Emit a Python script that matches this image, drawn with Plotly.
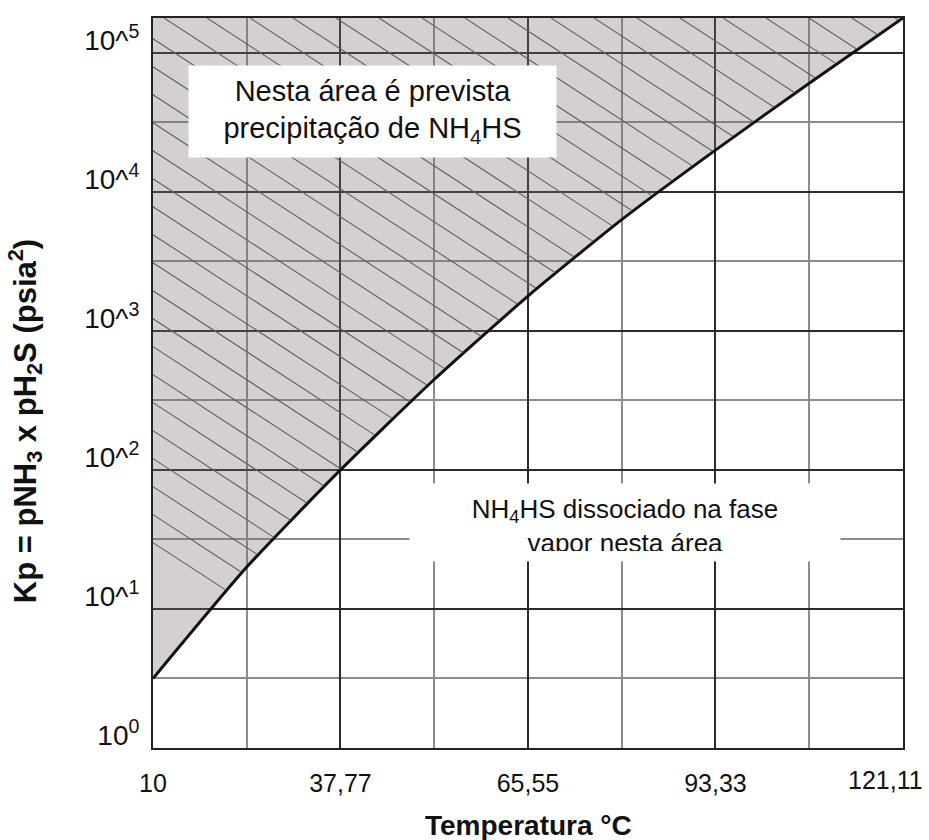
import numpy as np
import plotly.graph_objects as go

# Equilibrium boundary for NH4HS precipitation: temperature (°C) vs Kp (psia²)
temp_c = [10.0, 23.89, 37.77, 51.66, 65.55, 79.44, 93.33, 107.22, 121.11]
kp_boundary = [3.16, 20.0, 100.0, 447.0, 1780.0, 6310.0, 19950.0, 60260.0, 177800.0]

# Axis ticks (the last x label is placed separately so it stays inside the figure)
x_tick_vals = [10, 37.77, 65.55, 93.33, 121.11]
x_tick_text = ["10", "37,77", "65,55", "93,33", ""]
x_last_label = "121,11"
x_minor_vals = [23.89, 51.66, 79.44, 107.22]
y_tick_vals = [1, 10, 100, 1000, 10000, 100000]
y_tick_text = ["10<sup>0</sup>", "10^<sup>1</sup>", "10^<sup>2</sup>",
               "10^<sup>3</sup>", "10^<sup>4</sup>", "10^<sup>5</sup>"]
y_minor_vals = [3.162, 31.62, 316.2, 3162.0, 31623.0]

X_MIN, X_MAX = 10.0, 121.11
Y_MIN, Y_MAX = 1.0, 177800.0

FONT = "Liberation Sans, Arial, sans-serif"
FILL = "rgba(120,110,105,0.32)"
GRID_MAJOR = "#2b2b2b"
GRID_MINOR = "#8c8c8c"

fig = go.Figure()

# Upper edge of the shaded region (top of the plot)
fig.add_trace(go.Scatter(
    x=temp_c, y=[Y_MAX] * len(temp_c), mode="lines",
    line=dict(width=0, color="rgba(0,0,0,0)"), hoverinfo="skip", showlegend=False,
))
# Boundary curve, shading everything above it
fig.add_trace(go.Scatter(
    x=temp_c, y=kp_boundary, mode="lines",
    line=dict(color="#111111", width=3, shape="spline", smoothing=0.6),
    fill="tonexty", fillcolor=FILL, showlegend=False,
))

# Diagonal hatching inside the precipitation region
log_top = np.log10(Y_MAX)
hatch_slope = -0.0316   # decades per °C
hatch_step = 6.37       # °C between hatch lines along the top edge
t_fine = np.linspace(X_MIN, X_MAX, 4000)
log_curve = np.interp(t_fine, temp_c, np.log10(kp_boundary))
hx, hy = [], []
for k in range(-30, 8):
    start = 81.7 + hatch_step * k
    line = log_top + hatch_slope * (t_fine - start)
    mask = (t_fine >= start) & (line >= log_curve + 0.01) & (line <= log_top)
    if mask.sum() < 2:
        continue
    ts = t_fine[mask]
    ls = line[mask]
    hx += [ts[0], ts[-1], None]
    hy += [10 ** ls[0], 10 ** ls[-1], None]
fig.add_trace(go.Scatter(
    x=hx, y=hy, mode="lines", line=dict(color="#606060", width=1.1),
    hoverinfo="skip", showlegend=False,
))

axis_common = dict(
    showline=True, mirror=True, linecolor="#222222", linewidth=2,
    showgrid=True, gridcolor=GRID_MAJOR, gridwidth=2, zeroline=False, ticks="",
    automargin=False,
)

fig.update_xaxes(
    range=[X_MIN, X_MAX], tickmode="array", tickvals=x_tick_vals, ticktext=x_tick_text,
    minor=dict(tickmode="array", tickvals=x_minor_vals, showgrid=True,
               gridcolor=GRID_MINOR, gridwidth=1.5),
    tickfont=dict(family=FONT, size=25, color="#111111"),
    ticklabelstandoff=12, **axis_common,
)
fig.update_yaxes(
    type="log", range=[np.log10(Y_MIN), log_top], tickmode="array",
    tickvals=y_tick_vals, ticktext=y_tick_text,
    minor=dict(tickmode="array", tickvals=y_minor_vals, showgrid=True,
               gridcolor=GRID_MINOR, gridwidth=1.5),
    tickfont=dict(family=FONT, size=28, color="#111111"),
    ticklabelstandoff=6, ticklabelshift=-13, ticklabeloverflow="allow", **axis_common,
)

annotations = [
    # Precipitation-region label
    dict(x=42.5, y=4.576, xref="x", yref="y",
         text="Nesta área é prevista<br>precipitação de NH<sub>4</sub>HS",
         showarrow=False, bgcolor="#ffffff", width=365, height=89,
         font=dict(family=FONT, size=29, color="#111111")),
    # Vapour-phase region label (white panel, then text clipped at its lower edge)
    dict(x=79.9, y=1.622, xref="x", yref="y", text=" ", showarrow=False,
         bgcolor="#ffffff", width=428, height=75),
    dict(x=79.9, y=1.622, xref="x", yref="y",
         text="NH<sub>4</sub>HS dissociado na fase<br>vapor nesta área",
         showarrow=False, width=428, height=57, valign="top",
         font=dict(family=FONT, size=26, color="#111111")),
    # Last temperature tick label, kept inside the right edge
    dict(x=x_tick_vals[-1], y=-0.0445, xref="x", yref="paper", text=x_last_label,
         showarrow=False, xanchor="right", yanchor="middle", xshift=22,
         font=dict(family=FONT, size=25, color="#111111")),
    # Axis titles
    dict(x=0.5, y=-0.1055, xref="paper", yref="paper", text="<b>Temperatura °C</b>",
         showarrow=False, xanchor="center", yanchor="middle",
         font=dict(family=FONT, size=28, color="#111111")),
    dict(x=-0.17, y=0.447, xref="paper", yref="paper",
         text="<b>Kp = pNH<sub>3</sub> x pH<sub>2</sub>S (psia<sup>2</sup>)</b>",
         showarrow=False, textangle=-90, xanchor="center", yanchor="middle",
         font=dict(family=FONT, size=31, color="#111111")),
]

fig.update_layout(
    width=929, height=840,
    margin=dict(l=153, r=26, t=18, b=92, autoexpand=False),
    paper_bgcolor="#ffffff", plot_bgcolor="#ffffff",
    showlegend=False, annotations=annotations,
    font=dict(family=FONT, color="#111111"),
)

fig.write_html("out.html")
